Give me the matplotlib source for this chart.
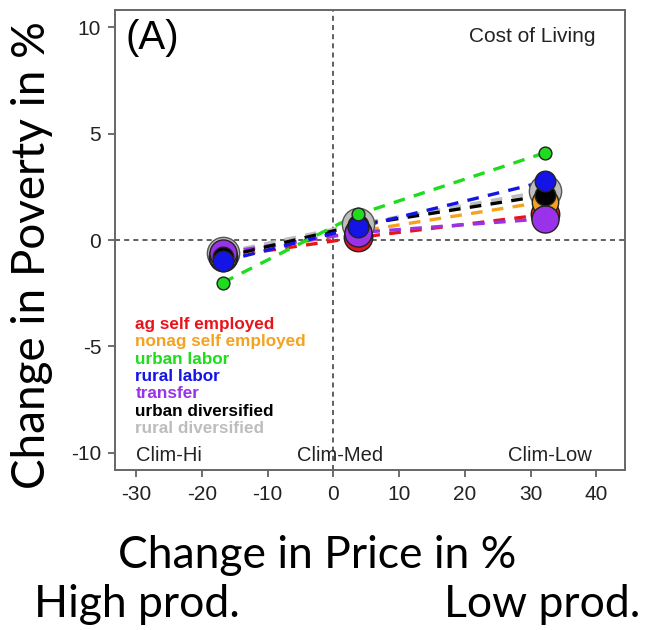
import matplotlib
matplotlib.use('Agg')
import matplotlib.pyplot as plt

plt.rcParams['axes.unicode_minus'] = False

# scenario positions on the price axis (Clim-Hi, Clim-Med, Clim-Low)
price_change = [-16.8, 3.7, 32.2]

groups = ['ag self employed', 'nonag self employed', 'urban labor', 'rural labor',
          'transfer', 'urban diversified', 'rural diversified']
colors = ['#e8141c', '#f5a21f', '#1fdc1f', '#1414e6', '#9932e8', '#000000', '#bdbdbd']
poverty = {
    'ag self employed':    [-0.8, 0.12, 1.2],
    'nonag self employed': [-0.8, 0.4, 1.8],
    'urban labor':         [-2.0, 1.2, 4.1],
    'rural labor':         [-1.0, 0.6, 2.75],
    'transfer':            [-0.6, 0.35, 1.0],
    'urban diversified':   [-0.8, 0.7, 2.1],
    'rural diversified':   [-0.6, 0.75, 2.3],
}
sizes = {
    'ag self employed': 420, 'nonag self employed': 360, 'urban labor': 85,
    'rural labor': 220, 'transfer': 380, 'urban diversified': 220,
    'rural diversified': 540,
}
draw_order = ['rural diversified', 'ag self employed', 'nonag self employed',
              'transfer', 'urban diversified', 'rural labor', 'urban labor']
scenarios = ['Clim-Hi', 'Clim-Med', 'Clim-Low']
scenario_label_x = [-25, 1, 33]

fig = plt.figure(figsize=(6.5, 6.3), dpi=100)
ax = fig.add_axes([0.177, 0.254, 0.785, 0.73])

ax.axhline(0, color='#444444', linestyle=(0, (3, 2.5)), linewidth=1.2, zorder=1)
ax.axvline(0, color='#444444', linestyle=(0, (3, 2.5)), linewidth=1.2, zorder=1)

for g in draw_order:
    c = colors[groups.index(g)]
    ax.plot(price_change, poverty[g], color=c, linestyle=(0, (3.5, 2.8)), linewidth=2.4, zorder=2)
for g in draw_order:
    c = colors[groups.index(g)]
    edge = '#555555' if g == 'rural diversified' else '#222222'
    ax.scatter(price_change, poverty[g], s=sizes[g], color=c, edgecolors=edge,
               linewidths=1, zorder=3)

ax.set_xlim(-33.2, 44.4)
ax.set_ylim(-10.8, 10.8)
ax.set_xticks([-30, -20, -10, 0, 10, 20, 30, 40])
ax.set_yticks([-10, -5, 0, 5, 10])
ax.tick_params(direction='out', length=5, width=1.2, color='#555555',
               labelsize=15, labelcolor='#222222')
ax.tick_params(axis='x', pad=6)
ax.tick_params(axis='y', pad=5)
for lab in ax.get_xticklabels() + ax.get_yticklabels():
    lab.set_family('Liberation Sans')
for s in ax.spines.values():
    s.set_color('#666666')
    s.set_linewidth(1.4)

ax.text(0.02, 0.98, '(A)', transform=ax.transAxes, fontsize=29, va='top', ha='left',
        family='Liberation Sans')
ax.text(0.941, 0.963, 'Cost of Living', transform=ax.transAxes, fontsize=15,
        va='top', ha='right', color='#222222', family='Liberation Sans')
for x, lab in zip(scenario_label_x, scenarios):
    ax.text(x, -10.1, lab, fontsize=14.5, ha='center', va='center', color='#222222',
            family='Liberation Sans')

for i, (g, c) in enumerate(zip(groups, colors)):
    ax.text(0.04, 0.316 - i * 0.0376, g, transform=ax.transAxes, color=c,
            fontsize=12.3, fontweight='bold', va='center', ha='left',
            family='Liberation Sans')

fig.text(0.05, 0.595, 'Change in Poverty in %', rotation=90, fontsize=33,
         family='Lato', ha='center', va='center')
fig.text(0.488, 0.119, 'Change in Price in %', fontsize=32, family='Lato',
         ha='center', va='center')
fig.text(0.053, 0.04, 'High prod.', fontsize=32, family='Lato', ha='left', va='center')
fig.text(0.985, 0.04, 'Low prod.', fontsize=32, family='Lato', ha='right', va='center')

fig.savefig('out.png', dpi=100)
